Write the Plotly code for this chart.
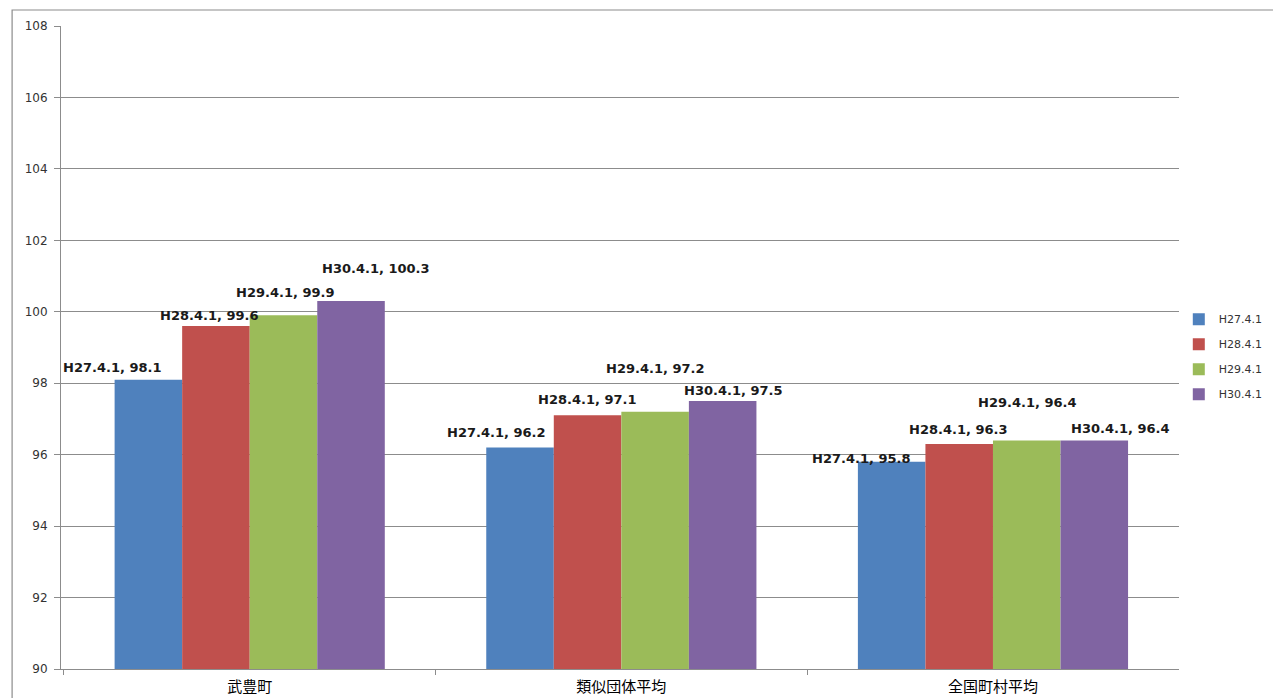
import plotly.graph_objects as go

categories = ["武豊町", "類似団体平均", "全国町村平均"]
series_names = ["H27.4.1", "H28.4.1", "H29.4.1", "H30.4.1"]
values = {
    "H27.4.1": [98.1, 96.2, 95.8],
    "H28.4.1": [99.6, 97.1, 96.3],
    "H29.4.1": [99.9, 97.2, 96.4],
    "H30.4.1": [100.3, 97.5, 96.4],
}
colors = ["#4F81BD", "#C0504D", "#9BBB59", "#8064A2"]
y_ticks = [90, 92, 94, 96, 98, 100, 102, 104, 106, 108]
axis_base = 90

# label offsets (px) relative to bar centre/top, mimicking the original layout
label_dx = [[-36, -24, -30], [-7, 0, -1], [1, 0, 0], [25, 10, 25]]
label_dy = [[12, 15, 3], [11, 16, 14], [23, 43, 38], [33, 11, 12]]
bar_px = 67.8

fig = go.Figure()
for i, name in enumerate(series_names):
    fig.add_trace(go.Bar(
        name=name, x=categories,
        y=[v - axis_base for v in values[name]],
        base=axis_base,
        marker=dict(color=colors[i], line=dict(width=0)),
        legendgroup=name,
        hoverinfo="skip",
    ))

annotations = []
for i, name in enumerate(series_names):
    for j, cat in enumerate(categories):
        v = values[name][j]
        annotations.append(dict(
            x=cat, y=v, xref="x", yref="y",
            text=f"{name}, {v}",
            showarrow=False, xanchor="center", yanchor="middle",
            xshift=(i - 1.5) * bar_px + label_dx[i][j],
            yshift=label_dy[i][j],
            font=dict(family="DejaVu Sans", size=13, color="#1a1a1a", weight="bold"),
        ))

fig.update_layout(
    width=1273, height=698,
    margin=dict(l=61, r=89, t=26, b=29),
    paper_bgcolor="white", plot_bgcolor="white",
    barmode="group", bargap=0.273, bargroupgap=0,
    showlegend=True,
    legend=dict(
        xref="container", yref="container",
        x=0.926, y=0.489, xanchor="left", yanchor="middle",
        font=dict(family="DejaVu Sans", size=11, color="#333"),
        itemwidth=30, tracegroupgap=6, bgcolor="rgba(0,0,0,0)",
    ),
    annotations=annotations,
    shapes=[dict(
        type="rect", xref="paper", yref="paper",
        x0=-0.04375, x1=1.09, y0=-0.06, y1=1.0249,
        line=dict(color="#8c8c8c", width=1.2), fillcolor="rgba(0,0,0,0)", layer="below",
    )],
)

fig.update_yaxes(
    range=[90, 108], tickvals=y_ticks, ticktext=[str(t) for t in y_ticks],
    showgrid=True, gridcolor="#8c8c8c", gridwidth=1,
    showline=True, linecolor="#8c8c8c", linewidth=1,
    ticks="outside", ticklen=6, tickcolor="#8c8c8c",
    tickfont=dict(family="DejaVu Sans", size=12, color="#333"),
    ticklabelstandoff=4, automargin=False,
    zeroline=False,
)
fig.update_xaxes(
    showline=True, linecolor="#8c8c8c", linewidth=1,
    ticks="outside", ticklen=5, tickcolor="#8c8c8c", tickson="boundaries",
    tickfont=dict(family="Noto Sans CJK JP", size=15, color="#000"),
    ticklabelstandoff=4, automargin=False,
    showgrid=False,
)

fig.write_html("out.html")
